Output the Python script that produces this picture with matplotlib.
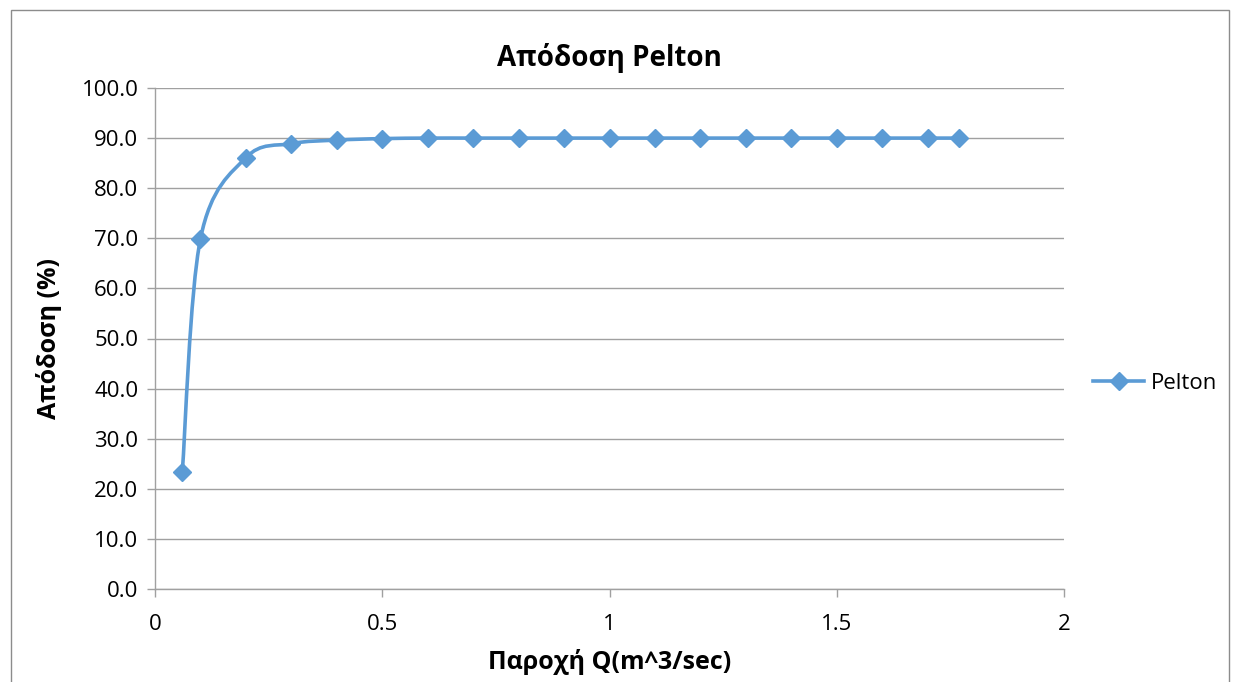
'''Απόδοση Pelton - καμπύλη απόδοσης στροβίλου'''

import numpy as np
import matplotlib.pyplot as plt
from matplotlib.path import Path
from matplotlib.patches import PathPatch, Rectangle
from matplotlib.lines import Line2D

plt.rcParams['font.family'] = ['Open Sans', 'DejaVu Sans']

### δεδομένα
q = [0.06, 0.1, 0.2, 0.3, 0.4, 0.5, 0.6, 0.7, 0.8, 0.9, 1.0, 1.1, 1.2,
     1.3, 1.4, 1.5, 1.6, 1.7, 1.77]
eff = [23.3, 69.9, 86.1, 88.9, 89.6, 89.9, 90.0, 90.0, 90.0, 90.0, 90.0,
       90.0, 90.0, 90.0, 90.0, 90.0, 90.0, 90.0, 90.0]
yticks = np.arange(0, 101, 10)
xticks = [0, 0.5, 1, 1.5, 2]
color = '#5B9BD5'

### καμπύλη εξομάλυνσης (Catmull-Rom -> Bezier, όπως στο Excel)
P = np.column_stack([q, eff])
verts = [P[0]]
codes = [Path.MOVETO]
for i in range(len(P) - 1):
    p0 = P[i - 1] if i > 0 else P[i]
    p1, p2 = P[i], P[i + 1]
    p3 = P[i + 2] if i + 2 < len(P) else P[i + 1]
    c1 = p1 + (p2 - p0) / 6.0
    c2 = p2 - (p3 - p1) / 6.0
    verts += [c1, c2, p2]
    codes += [Path.CURVE4] * 3

### σχεδίαση
fig = plt.figure(figsize=(12.37, 6.82), dpi=100)
ax = fig.add_axes([155/1237, 93/682, (1064-155)/1237, (589-88)/682])

ax.add_patch(PathPatch(Path(verts, codes), facecolor='none', edgecolor=color,
                       lw=2.6, capstyle='round', zorder=3))
ax.plot(q, eff, linestyle='none', marker='D', markersize=9, color=color,
        zorder=4)

ax.set_xlim(0, 2)
ax.set_ylim(0, 100)
ax.set_xticks(xticks)
ax.set_xticklabels(['0', '0.5', '1', '1.5', '2'])
ax.set_yticks(yticks)
ax.set_yticklabels(['%.1f' % v for v in yticks])
ax.grid(axis='y', color='#a0a0a0', lw=1.0)
ax.set_axisbelow(True)
for s in ['top', 'right']:
    ax.spines[s].set_visible(False)
for s in ['left', 'bottom']:
    ax.spines[s].set_color('#a0a0a0')
    ax.spines[s].set_linewidth(1.0)
ax.tick_params(axis='both', colors='#a0a0a0', labelcolor='black',
               labelsize=16, length=6, width=1.0)
ax.tick_params(axis='x', pad=12)
ax.tick_params(axis='y', pad=6)

ax.set_title('Απόδοση Pelton', fontsize=20, fontweight='bold', pad=16)
ax.set_xlabel('Παροχή Q(m^3/sec)', fontsize=18, fontweight='bold', labelpad=10)
ax.set_ylabel('Απόδοση (%)', fontsize=18, fontweight='bold', labelpad=14)

h = Line2D([], [], color=color, lw=2.6, marker='D', markersize=9)
ax.legend([h], ['Pelton'], loc='center left', bbox_to_anchor=(1.01, 0.41),
          frameon=False, fontsize=16, handlelength=2.3, handletextpad=0.3)

#### περίγραμμα γραφήματος
fig.patches.append(Rectangle((11/1237, -0.1), (1229-11)/1237, 1.1 - 10/682,
                             transform=fig.transFigure, fill=False,
                             edgecolor='#8c8c8c', lw=1.0))

fig.savefig('out.png', dpi=100)
